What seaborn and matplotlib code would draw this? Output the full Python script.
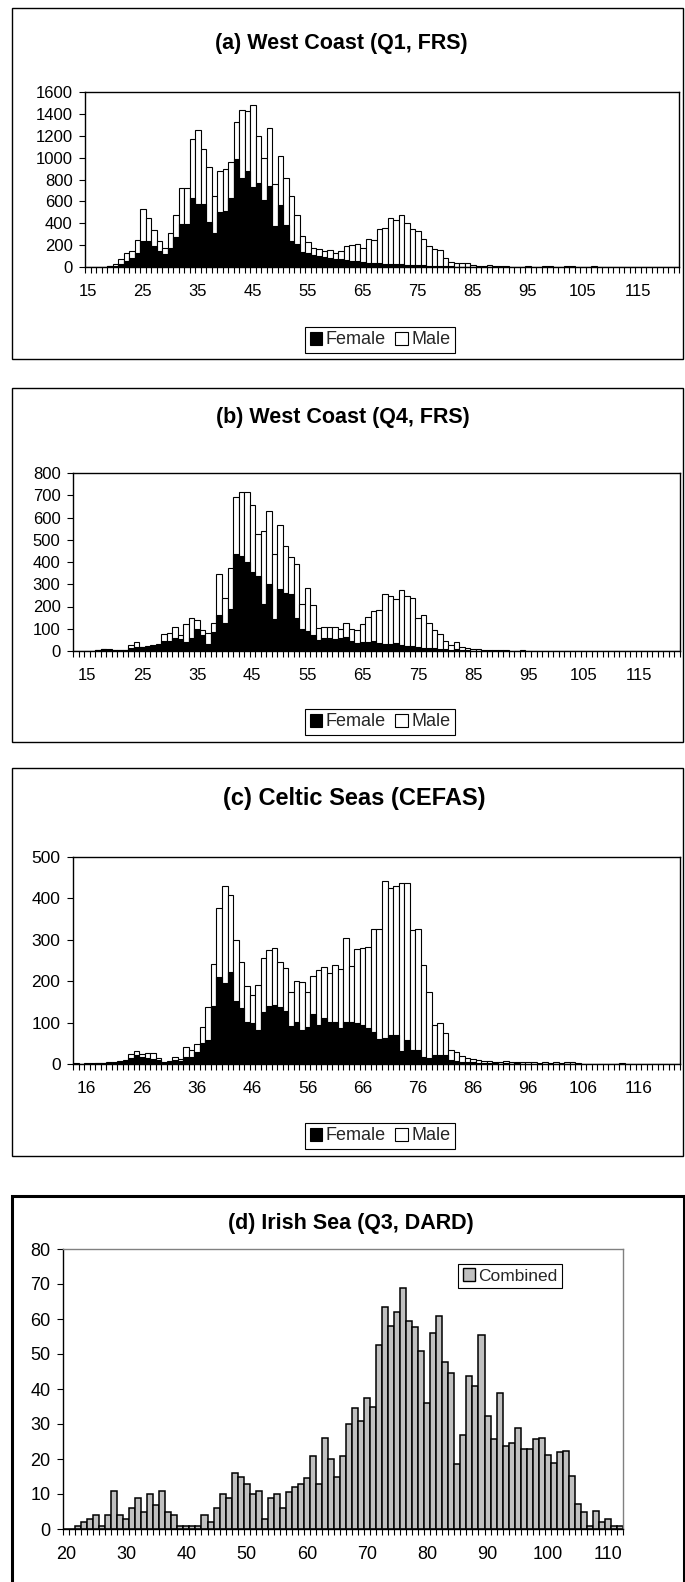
import numpy as np
import pandas as pd
import matplotlib
matplotlib.use("Agg")
import matplotlib.pyplot as plt
from matplotlib.patches import Rectangle
from matplotlib.ticker import FixedLocator, NullFormatter
import seaborn as sns

sns.set_theme(style="white")
plt.rcParams['font.family'] = ['Liberation Sans', 'DejaVu Sans']

# ---------------------------------------------------------------- data
# (a) West Coast, Q1 (FRS): lengths 15..122 cm
a_lengths = list(range(15, 123))
a_female = [0, 0, 0, 2, 5, 10, 25, 55, 85, 130,
            240, 240, 190, 145, 115, 175, 270, 390, 390, 635,
            580, 580, 410, 315, 500, 510, 635, 990, 810, 880,
            735, 770, 615, 745, 375, 565, 380, 240, 210, 140,
            125, 110, 100, 92, 85, 72, 70, 64, 55, 55,
            46, 40, 35, 34, 30, 28, 25, 25, 22, 20,
            18, 15, 12, 10, 8, 6, 5, 4, 3, 3,
            2, 1, 1, 2, 1, 0, 2, 0, 0, 0,
            0, 0, 0, 0, 0, 0, 0, 0, 0, 0,
            0, 0, 0, 0, 0, 0, 0, 0, 0, 0,
            0, 0, 0, 0, 0, 0, 0, 0]
a_male = [0, 0, 0, 1, 5, 15, 45, 70, 65, 115,
          288, 205, 150, 95, 60, 140, 210, 335, 330, 535,
          675, 495, 500, 335, 380, 390, 325, 335, 625, 545,
          745, 430, 385, 530, 385, 450, 435, 410, 270, 145,
          100, 67, 62, 54, 71, 59, 76, 128, 143, 152,
          131, 213, 212, 317, 327, 423, 405, 448, 378, 325,
          311, 244, 180, 152, 148, 73, 41, 30, 31, 31,
          18, 11, 9, 12, 5, 5, 8, 4, 3, 2,
          5, 2, 3, 6, 5, 4, 3, 5, 5, 4,
          2, 3, 5, 2, 1, 0, 1, 0, 0, 0,
          0, 0, 0, 0, 0, 0, 0, 0]

# (b) West Coast, Q4 (FRS): lengths 13..122 cm
b_lengths = list(range(13, 123))
b_female = [0, 0, 0, 0, 4, 7, 6, 3, 3, 4,
            15, 19, 17, 19, 24, 27, 45, 45, 57, 52,
            40, 60, 100, 70, 30, 85, 160, 124, 191, 437,
            429, 399, 354, 336, 209, 303, 145, 277, 259, 257,
            150, 97, 90, 70, 49, 57, 57, 52, 57, 64,
            45, 34, 40, 42, 45, 37, 30, 30, 34, 25,
            22, 22, 18, 15, 15, 12, 10, 8, 5, 8,
            4, 3, 2, 2, 1, 1, 0, 0, 0, 0,
            0, 0, 0, 0, 0, 0, 0, 0, 0, 0,
            0, 0, 0, 0, 0, 0, 0, 0, 0, 0,
            0, 0, 0, 0, 0, 0, 0, 0, 0, 0]
b_male = [0, 0, 0, 0, 1, 3, 2, 1, 1, 1,
          13, 20, 2, 3, 3, 3, 30, 34, 49, 18,
          80, 87, 39, 24, 49, 41, 184, 115, 181, 255,
          284, 317, 301, 192, 332, 328, 293, 291, 215, 166,
          239, 112, 194, 136, 53, 52, 52, 57, 43, 60,
          52, 60, 83, 113, 137, 147, 226, 217, 201, 247,
          225, 217, 132, 146, 109, 82, 65, 37, 20, 32,
          16, 9, 8, 6, 5, 4, 4, 3, 3, 2,
          2, 3, 2, 1, 2, 2, 1, 2, 1, 1,
          0, 0, 1, 0, 0, 1, 0, 0, 0, 0,
          0, 0, 0, 0, 0, 0, 0, 0, 0, 0]

# (c) Celtic Seas (CEFAS): lengths 14..123 cm
c_lengths = list(range(14, 124))
c_female = [1, 0, 1, 1, 2, 2, 3, 3, 5, 7,
            15, 22, 18, 14, 13, 10, 3, 5, 10, 8,
            18, 18, 28, 50, 58, 140, 210, 195, 223, 153,
            136, 102, 100, 82, 125, 141, 143, 137, 127, 92,
            102, 82, 90, 121, 94, 110, 102, 102, 86, 102,
            102, 98, 94, 86, 78, 60, 62, 70, 70, 32,
            58, 35, 35, 18, 14, 22, 22, 22, 10, 8,
            6, 5, 4, 3, 3, 2, 2, 1, 2, 1,
            2, 1, 1, 1, 1, 1, 1, 1, 1, 1,
            1, 1, 0, 0, 0, 0, 0, 0, 0, 0,
            0, 0, 0, 0, 0, 0, 0, 0, 0, 0]
c_male = [1, 0, 1, 1, 1, 1, 2, 2, 3, 3,
          8, 10, 7, 12, 13, 5, 1, 2, 6, 4,
          23, 17, 21, 39, 80, 102, 168, 235, 186, 147,
          110, 87, 67, 109, 132, 135, 136, 109, 104, 83,
          98, 116, 83, 92, 133, 125, 117, 137, 143, 202,
          135, 180, 186, 196, 248, 266, 380, 355, 359, 404,
          378, 289, 291, 221, 161, 72, 76, 54, 24, 22,
          14, 10, 8, 7, 5, 6, 3, 3, 6, 4,
          4, 4, 3, 4, 2, 3, 2, 3, 2, 3,
          4, 2, 1, 1, 1, 0, 1, 1, 1, 2,
          1, 0, 0, 0, 0, 0, 0, 0, 0, 0]

# (d) Irish Sea, Q3 (DARD): lengths 20..112 cm, sexes combined
d_lengths = list(range(20, 113))
d_combined = [0, 0, 1, 2, 3, 4, 1, 4, 11, 4,
              3, 6, 9, 5, 10, 7, 11, 5, 4, 1,
              1, 1, 1, 4, 2, 6, 10, 9, 16, 15,
              13, 10, 11, 3, 9, 10, 6, 10.5, 12, 13,
              14.5, 21, 13, 26, 20, 15, 21, 30, 34.5, 31,
              37.5, 35, 52.6, 63.5, 58, 62, 69, 59.5, 57.7, 51,
              36, 56, 61, 47.7, 44.5, 18.5, 27, 43.6, 41, 55.4,
              32.3, 25.6, 38.8, 23.7, 24.5, 29, 23, 22.8, 25.7, 26,
              21.2, 18.8, 22, 22.4, 15.2, 7.1, 5, 1, 5.2, 1.9,
              3, 1, 1]

a_labels = list(range(15, 116, 10))
b_labels = list(range(15, 116, 10))
c_labels = list(range(16, 117, 10))
d_labels = list(range(20, 111, 10))

titles = ["(a) West Coast (Q1, FRS)", "(b) West Coast (Q4, FRS)",
          "(c) Celtic Seas (CEFAS)", "(d) Irish Sea (Q3, DARD)"]
sex_names = ["Female", "Male"]

# ---------------------------------------------------------------- layout helpers
W, H, DPI = 685, 1582, 100
fig = plt.figure(figsize=(W / DPI, H / DPI), dpi=DPI, facecolor="white")


def px_axes(left, top, right, bottom):
    return fig.add_axes([left / W, 1 - bottom / H, (right - left) / W, (bottom - top) / H])


def frame(left, top, right, bottom, lw):
    fig.patches.append(Rectangle((left / W, 1 - bottom / H), (right - left) / W,
                                 (bottom - top) / H, transform=fig.transFigure,
                                 fill=False, edgecolor="black", linewidth=lw))


def title(text, x, y, size):
    fig.text(x / W, 1 - y / H, text, ha="center", va="center",
             fontsize=size, fontweight="bold", color="black")


def style_axes(ax, lengths, labels, ymax, ystep, fs, box_color="black"):
    n = len(lengths)
    ax.set_xlim(-0.5, n - 0.5)
    ax.set_ylim(0, ymax)
    ax.set_xlabel("")
    ax.set_ylabel("")
    pos = [lengths.index(v) for v in labels]
    ax.xaxis.set_major_locator(FixedLocator(pos))
    ax.set_xticklabels([str(v) for v in labels], fontsize=fs)
    ax.xaxis.set_minor_locator(FixedLocator(np.arange(-0.5, n, 1.0)))
    ax.xaxis.set_minor_formatter(NullFormatter())
    ax.tick_params(axis="x", which="major", length=0, pad=12, colors="black")
    ax.tick_params(axis="x", which="minor", length=4, width=0.8, color="black",
                   direction="out", bottom=True)
    ticks = np.arange(0, ymax + 1, ystep)
    ax.set_yticks(ticks)
    ax.set_yticklabels([f"{int(v)}" for v in ticks], fontsize=fs)
    ax.tick_params(axis="y", which="major", length=4, width=0.8, color="black",
                   direction="out", left=True, pad=5, colors="black")
    for side in ("left", "bottom"):
        ax.spines[side].set_color("black")
        ax.spines[side].set_linewidth(1.0)
    for side in ("top", "right"):
        ax.spines[side].set_color(box_color)
        ax.spines[side].set_linewidth(1.0)
    ax.grid(False)


def stacked(ax, lengths, female, male):
    df = pd.DataFrame({"length": [str(v) for v in lengths],
                       "Female": female, "Male": male})
    df["Total"] = df["Female"] + df["Male"]
    order = list(df["length"])
    # male counts sit on top of female counts: draw the column total in white,
    # then the female part in black over its lower portion
    sns.barplot(data=df, x="length", y="Total", order=order, color="white",
                edgecolor="black", linewidth=0.8, width=1.0, saturation=1,
                errorbar=None, ax=ax)
    sns.barplot(data=df, x="length", y="Female", order=order, color="black",
                edgecolor="black", linewidth=0.8, width=1.0, saturation=1,
                errorbar=None, ax=ax)


def boxed_legend(handles, names, x, y, fs, ncol):
    leg = fig.legend(handles, names, loc="center", bbox_to_anchor=(x / W, 1 - y / H),
                     ncol=ncol, frameon=True, fancybox=False, edgecolor="black",
                     framealpha=1, fontsize=fs, handlelength=0.7, handleheight=0.7,
                     handletextpad=0.2, columnspacing=0.5, borderpad=0.25,
                     borderaxespad=0)
    leg.get_frame().set_linewidth(0.8)


def sex_legend(x, y, fs):
    handles = [Rectangle((0, 0), 1, 1, facecolor="black", edgecolor="black", linewidth=0.8),
               Rectangle((0, 0), 1, 1, facecolor="white", edgecolor="black", linewidth=0.8)]
    boxed_legend(handles, sex_names, x, y, fs, 2)


# ---------------------------------------------------------------- (a)
frame(12, 8, 683, 359, 1.0)
title(titles[0], 341, 44, 15.5)
ax_a = px_axes(85, 92, 679, 267)
stacked(ax_a, a_lengths, a_female, a_male)
style_axes(ax_a, a_lengths, a_labels, 1600, 200, 12)
sex_legend(380, 340, 13)

# ---------------------------------------------------------------- (b)
frame(12, 388, 683, 742, 1.0)
title(titles[1], 343, 417, 15.5)
ax_b = px_axes(73, 473, 680, 651)
stacked(ax_b, b_lengths, b_female, b_male)
style_axes(ax_b, b_lengths, b_labels, 800, 100, 12)
sex_legend(380, 722, 13)

# ---------------------------------------------------------------- (c)
frame(12, 768, 683, 1156, 1.0)
title(titles[2], 354, 798, 17)
ax_c = px_axes(73, 857, 680, 1064)
stacked(ax_c, c_lengths, c_female, c_male)
style_axes(ax_c, c_lengths, c_labels, 500, 100, 12.5)
sex_legend(380, 1136, 13)

# ---------------------------------------------------------------- (d)
frame(12, 1196, 684, 1600, 2.2)
title(titles[3], 351, 1223, 15.5)
ax_d = px_axes(63, 1249, 623, 1529)
df_d = pd.DataFrame({"length": [str(v) for v in d_lengths], "Combined": d_combined})
sns.barplot(data=df_d, x="length", y="Combined", order=list(df_d["length"]),
            color="#c0c0c0", edgecolor="black", linewidth=1.1, width=1.0,
            saturation=1, errorbar=None, ax=ax_d)
style_axes(ax_d, d_lengths, d_labels, 80, 10, 13, box_color="#808080")
boxed_legend([Rectangle((0, 0), 1, 1, facecolor="#c0c0c0", edgecolor="black", linewidth=1.0)],
             ["Combined"], 510, 1276, 12.5, 1)

fig.savefig("out.png", dpi=DPI, facecolor="white")
